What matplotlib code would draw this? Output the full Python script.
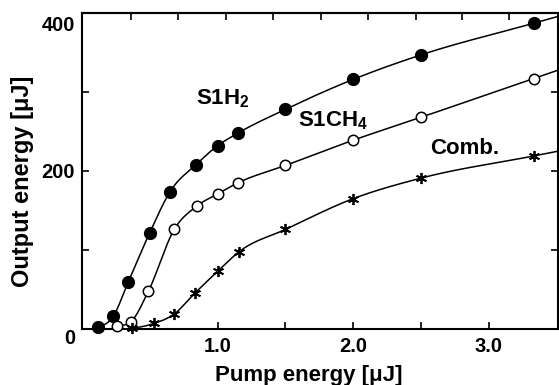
import numpy as np
import matplotlib
matplotlib.use("Agg")
import matplotlib.pyplot as plt
import matplotlib.transforms as mtransforms

# ---- data ----
h2_x = [0.12, 0.23, 0.34, 0.50, 0.65, 0.84, 1.00, 1.15, 1.50, 2.00, 2.50, 3.33]
h2_y = [2, 16, 59, 122, 174, 208, 232, 248, 278, 316, 347, 387]

ch4_x = [0.26, 0.36, 0.49, 0.68, 0.85, 1.00, 1.15, 1.50, 2.00, 2.50, 3.33]
ch4_y = [4, 9, 48, 126, 156, 171, 185, 207, 239, 268, 317]

comb_x = [0.37, 0.53, 0.68, 0.83, 1.00, 1.16, 1.50, 2.00, 2.50, 3.33]
comb_y = [1, 7, 19, 45, 73, 98, 126, 165, 191, 219]

x_major = [1.0, 2.0, 3.0]
x_major_labels = ["1.0", "2.0", "3.0"]
x_minor = [1.5, 2.5]
y_labeled = [0, 200, 400]
y_minor = [100, 300]
top_ticks = [0.36, 0.71, 1.06, 1.41, 1.76, 2.11, 2.46, 2.80, 3.15]

labels = ["S1H$_\\mathbf{2}$", "S1CH$_\\mathbf{4}$", "Comb."]
label_pos = [(1.04, 292), (1.85, 264), (2.82, 228)]


def smooth(xs, ys, x_end):
    """Smooth cubic Hermite curve through the points, extended linearly to x_end."""
    x = np.asarray(xs, float)
    y = np.asarray(ys, float)
    h = np.diff(x)
    d = np.diff(y) / h
    m = np.zeros_like(y)
    for i in range(1, len(x) - 1):
        m[i] = (h[i] * d[i - 1] + h[i - 1] * d[i]) / (h[i - 1] + h[i])
        lim = 3 * min(abs(d[i - 1]), abs(d[i]))
        m[i] = np.clip(m[i], -lim, lim)
    m[0] = d[0] * 0.6
    m[-1] = d[-1]
    xx, yy = [], []
    for i in range(len(x) - 1):
        t = np.linspace(0, 1, 40)
        h00 = 2 * t**3 - 3 * t**2 + 1
        h10 = t**3 - 2 * t**2 + t
        h01 = -2 * t**3 + 3 * t**2
        h11 = t**3 - t**2
        xx.extend(x[i] + t * h[i])
        yy.extend(h00 * y[i] + h10 * h[i] * m[i] + h01 * y[i + 1] + h11 * h[i] * m[i + 1])
    xx.append(x_end)
    yy.append(y[-1] + m[-1] * (x_end - x[-1]))
    return np.array(xx), np.array(yy)


plt.rcParams["font.family"] = ["Liberation Sans", "DejaVu Sans"]
plt.rcParams["mathtext.fontset"] = "custom"
plt.rcParams["mathtext.rm"] = "Liberation Sans:bold"
plt.rcParams["mathtext.bf"] = "Liberation Sans:bold"

fig = plt.figure(figsize=(5.59, 3.85), dpi=100)
ax = fig.add_axes([82 / 559, 56 / 385, 476 / 559, 316 / 385])

xmax = 3.51
for xs, ys in [(h2_x, h2_y), (ch4_x, ch4_y), (comb_x, comb_y)]:
    cx, cy = smooth(xs, ys, xmax)
    ax.plot(cx, cy, color="black", lw=1.1, zorder=2)

ax.plot(h2_x, h2_y, "o", ms=8.5, mfc="black", mec="black", zorder=3, clip_on=False)
ax.plot(ch4_x, ch4_y, "o", ms=7.5, mfc="white", mec="black", mew=1.1, zorder=3, clip_on=False)
ax.plot(comb_x, comb_y, marker=(6, 2, 0), ls="none", ms=8, mec="black", mew=1.3, zorder=3, clip_on=False)

for txt, (tx, ty) in zip(labels, label_pos):
    ax.text(tx, ty, txt, fontsize=16, fontweight="bold", ha="center", va="center")

ax.set_xlim(0, xmax)
ax.set_ylim(0, 398)

ax.set_xticks(x_major)
ax.set_xticklabels(x_major_labels, fontsize=14.5, fontweight="bold")
ax.set_xticks(x_minor, minor=True)
ax.set_yticks(y_labeled)
ax.set_yticklabels([str(v) for v in y_labeled], fontsize=14.5, fontweight="bold")
ax.set_yticks(y_minor, minor=True)
ax.tick_params(axis="both", which="both", direction="in", length=5, width=1.2)
ax.tick_params(axis="y", which="both", right=True, pad=5)
ax.tick_params(axis="x", pad=6)

for sp in ax.spines.values():
    sp.set_linewidth(1.5)

top = ax.secondary_xaxis("top")
top.set_xticks(top_ticks)
top.set_xticklabels([])
top.tick_params(direction="in", length=5, width=1.2)
top.spines["top"].set_linewidth(1.5)

ax.set_xlabel("Pump energy [\u03bcJ]", fontsize=16, fontweight="bold")
ax.set_ylabel("Output energy [\u03bcJ]", fontsize=17, fontweight="bold")
ax.xaxis.set_label_coords(0.477, -0.114)
ax.yaxis.set_label_coords(-0.100, 0.468)

# shift the 0 and 400 labels downward as in the reference
for lab, dy in zip(ax.get_yticklabels(), [-8, 0, -11]):
    off = mtransforms.ScaledTranslation(0, dy / 100, fig.dpi_scale_trans)
    lab.set_transform(lab.get_transform() + off)

fig.savefig("out.png", dpi=100)
